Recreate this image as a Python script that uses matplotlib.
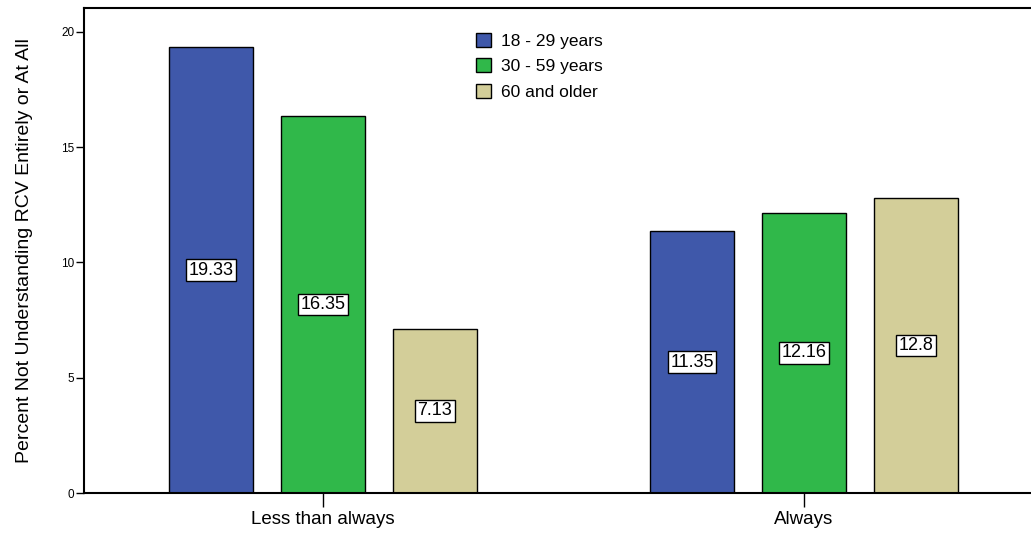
import matplotlib
matplotlib.use("Agg")
import matplotlib.pyplot as plt
import numpy as np

categories = ["Less than always", "Always"]
series_names = ["18 - 29 years", "30 - 59 years", "60 and older"]
values = {
    "18 - 29 years": [19.33, 11.35],
    "30 - 59 years": [16.35, 12.16],
    "60 and older": [7.13, 12.8],
}
labels = {
    "18 - 29 years": ["19.33", "11.35"],
    "30 - 59 years": ["16.35", "12.16"],
    "60 and older": ["7.13", "12.8"],
}
colors = ["#3F58AA", "#30B84A", "#D3CE99"]

plt.rcParams['font.family'] = ['Liberation Sans', 'DejaVu Sans']

fig = plt.figure(figsize=(10.31, 5.35), dpi=100)
ax_left_px = 84
ax_w_px = 1031 - ax_left_px + 10
ax = fig.add_axes([ax_left_px/1031, 42/535, ax_w_px/1031, (493-8)/535])

x = np.arange(len(categories))
px_per_unit = 481.0
width = 84/px_per_unit
offset = 112/px_per_unit
for i, name in enumerate(series_names):
    pos = x + (i - 1) * offset
    ax.bar(pos, values[name], width=width, color=colors[i],
           edgecolor="black", linewidth=1.0, label=name, zorder=2)
    for p, v, lab in zip(pos, values[name], labels[name]):
        ax.text(p, v / 2, lab, ha="center", va="center", fontsize=13,
                bbox=dict(boxstyle="square,pad=0.13", facecolor="white",
                          edgecolor="black", linewidth=1.0), zorder=3)

xl = -(323 - 84)/px_per_unit
ax.set_xlim(xl, xl + ax_w_px/px_per_unit)
ax.set_ylim(0, 21.04)
ax.set_xticks(x)
ax.set_xticklabels(categories, fontsize=13.5)
ax.set_yticks([0, 5, 10, 15, 20])
ax.set_yticklabels(["0", "5", "10", "15", "20"], fontsize=8.5)
ax.tick_params(axis="y", length=6, width=1, pad=1)
ax.tick_params(axis="x", length=10, width=1, pad=3)
ax.set_ylabel("Percent Not Understanding RCV Entirely or At All", fontsize=14, labelpad=20)
ax.spines["right"].set_visible(False)
for s in ["left", "bottom", "top"]:
    ax.spines[s].set_linewidth(1.5)

leg = ax.legend(loc="upper left", bbox_to_anchor=(476/1031, 1 - 33/535),
                bbox_transform=fig.transFigure, frameon=False, fontsize=12.5,
                handlelength=0.85, handleheight=0.85, handletextpad=0.6,
                labelspacing=0.55, borderpad=0, borderaxespad=0)

fig.savefig("out.png", dpi=100)
